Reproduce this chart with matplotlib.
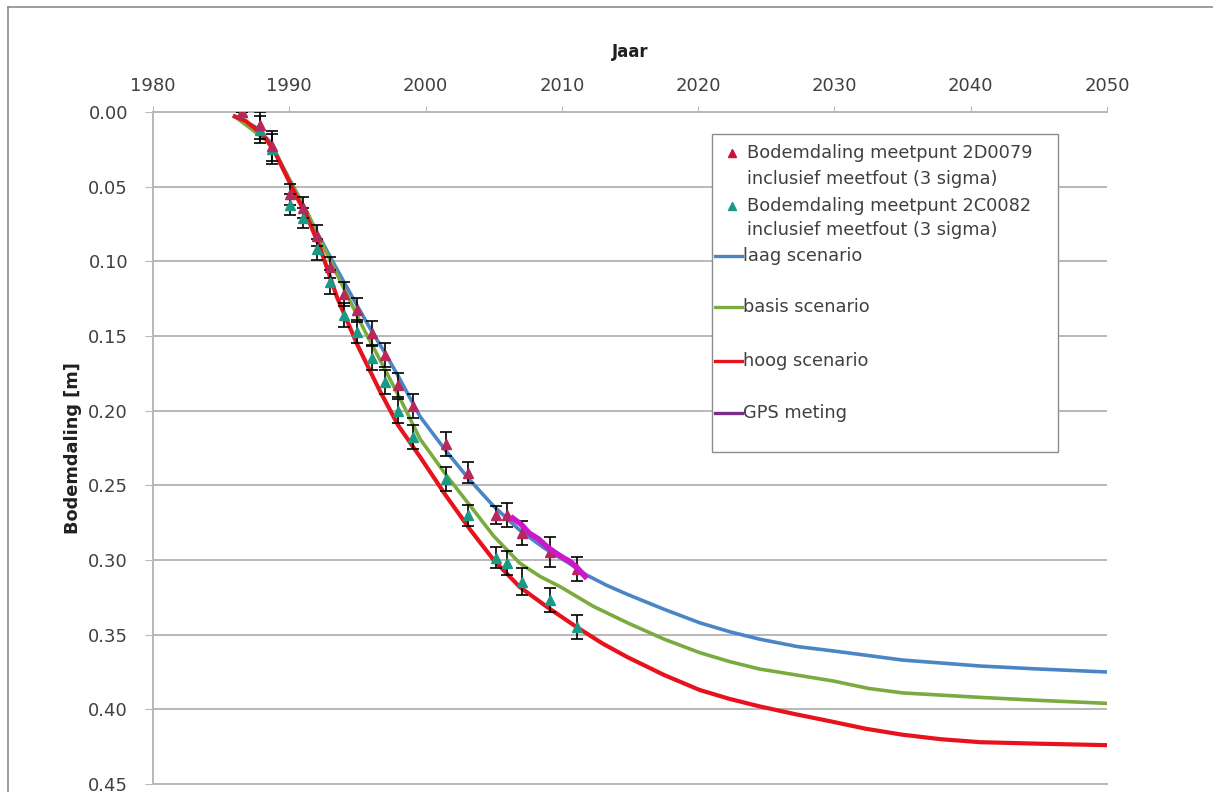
import matplotlib
matplotlib.use('Agg')
import matplotlib.pyplot as plt
from matplotlib.lines import Line2D
from matplotlib.patches import Rectangle
from matplotlib.ticker import FormatStrFormatter
import numpy as np

# ---------------- data ----------------
laag_years = [1986.0, 1987.5, 1988.6, 1990.0, 1991.0, 1992.0, 1993.0, 1993.9, 1995.0, 1996.0,
              1997.0, 1998.0, 1999.6, 2001.5, 2003.2, 2005.0, 2006.9, 2008.7, 2010.5, 2011.8,
              2013.3, 2014.8, 2017.5, 2020.1, 2022.3, 2024.5, 2027.3, 2030.0, 2035.0, 2040.7,
              2045.0, 2050.0]
laag_vals = [0.003, 0.010, 0.020, 0.045, 0.062, 0.080, 0.097, 0.112, 0.130, 0.146,
             0.161, 0.177, 0.204, 0.227, 0.246, 0.264, 0.280, 0.292, 0.302, 0.310,
             0.317, 0.323, 0.333, 0.342, 0.348, 0.353, 0.358, 0.361, 0.367, 0.371,
             0.373, 0.375]

basis_years = [1986.0, 1988.6, 1990.0, 1991.3, 1992.5, 1994.0, 1995.5, 1997.0, 1998.3, 1999.6,
               2001.5, 2003.3, 2005.0, 2006.9, 2008.4, 2009.9, 2012.3, 2014.8, 2017.5, 2020.1,
               2022.3, 2024.5, 2027.2, 2029.9, 2032.5, 2035.0, 2040.7, 2045.0, 2050.0]
basis_vals = [0.003, 0.021, 0.045, 0.067, 0.090, 0.118, 0.146, 0.172, 0.195, 0.219,
              0.243, 0.264, 0.284, 0.302, 0.311, 0.318, 0.331, 0.342, 0.353, 0.362,
              0.368, 0.373, 0.377, 0.381, 0.386, 0.389, 0.392, 0.394, 0.396]

hoog_years = [1986.0, 1986.8, 1987.5, 1988.3, 1989.0, 1989.8, 1990.5, 1991.3, 1992.3, 1993.5,
              1995.0, 1996.6, 1998.0, 1999.6, 2001.5, 2003.3, 2005.0, 2006.9, 2009.0, 2011.1,
              2013.0, 2014.8, 2017.5, 2020.1, 2022.3, 2024.5, 2027.0, 2029.7, 2032.3, 2035.0,
              2037.8, 2040.7, 2045.0, 2050.0]
hoog_vals = [0.003, 0.006, 0.011, 0.018, 0.028, 0.043, 0.056, 0.070, 0.092, 0.124,
             0.156, 0.186, 0.210, 0.231, 0.257, 0.280, 0.300, 0.318, 0.332, 0.345,
             0.356, 0.365, 0.377, 0.387, 0.393, 0.398, 0.403, 0.408, 0.413, 0.417,
             0.420, 0.422, 0.423, 0.424]

meas_years = [1986.5, 1987.85, 1988.7, 1990.05, 1991.0, 1992.0, 1993.0, 1994.0, 1995.0, 1996.1,
              1997.0, 1998.0, 1999.1, 2001.5, 2003.1, 2005.2, 2006.0, 2007.1, 2009.1, 2011.1]
p2d0079_vals = [0.000, 0.009, 0.023, 0.055, 0.064, 0.083, 0.104, 0.122, 0.1325, 0.148,
                0.1625, 0.183, 0.197, 0.2225, 0.2415, 0.270, 0.270, 0.282, 0.2945, 0.306]
p2d0079_err = [0.000, 0.009, 0.010, 0.007, 0.007, 0.007, 0.007, 0.008, 0.008, 0.008,
               0.008, 0.008, 0.008, 0.008, 0.007, 0.006, 0.008, 0.008, 0.010, 0.008]
p2c0082_vals = [0.000, 0.012, 0.025, 0.062, 0.071, 0.092, 0.114, 0.136, 0.147, 0.165,
                0.181, 0.2005, 0.2175, 0.246, 0.270, 0.2985, 0.302, 0.3145, 0.3265, 0.345]
p2c0082_err = [0.000, 0.009, 0.010, 0.007, 0.007, 0.007, 0.008, 0.008, 0.008, 0.008,
               0.008, 0.008, 0.008, 0.008, 0.007, 0.007, 0.008, 0.009, 0.008, 0.008]

gps_years = [2006.4, 2007.0, 2007.6, 2008.3, 2008.9, 2009.5, 2010.1, 2010.6, 2011.1, 2011.7]
gps_vals = [0.272, 0.276, 0.282, 0.286, 0.291, 0.295, 0.2985, 0.301, 0.305, 0.311]

x_ticks = [1980, 1990, 2000, 2010, 2020, 2030, 2040, 2050]
y_ticks = [0.00, 0.05, 0.10, 0.15, 0.20, 0.25, 0.30, 0.35, 0.40, 0.45]

legend_labels = ["Bodemdaling meetpunt 2D0079\ninclusief meetfout (3 sigma)",
                 "Bodemdaling meetpunt 2C0082\ninclusief meetfout (3 sigma)",
                 "laag scenario", "basis scenario", "hoog scenario", "GPS meting"]

# ---------------- style ----------------
C_LAAG = '#4a86c5'
C_BASIS = '#7aab3f'
C_HOOG = '#e8121e'
C_GPS = '#cc18c8'
C_GPS_LEG = '#7b2d8e'
C_P1 = '#b8285a'
C_P2 = '#1a9a85'
C_TXT = '#404040'
C_GRID = '#b8b8b8'
C_FRAME = '#8c8c8c'

plt.rcParams['font.family'] = ['DejaVu Sans']

W, H = 1213, 792
fig = plt.figure(figsize=(W / 100, H / 100), dpi=100)
ax = fig.add_axes([153 / W, 1 - 784 / H, (1107 - 153) / W, (784 - 112) / H])

def fx(px):
    return px / W

def fy(py):
    return 1 - py / H

ax.plot(laag_years, laag_vals, color=C_LAAG, lw=2.6, zorder=3)
ax.plot(basis_years, basis_vals, color=C_BASIS, lw=2.6, zorder=3)
ax.plot(hoog_years, hoog_vals, color=C_HOOG, lw=3.0, zorder=3)

ax.errorbar(meas_years, p2c0082_vals, yerr=p2c0082_err, fmt='^', color=C_P2,
            markersize=7, ecolor='black', elinewidth=1.2, capsize=4, capthick=1.2, zorder=4)
ax.errorbar(meas_years, p2d0079_vals, yerr=p2d0079_err, fmt='^', color=C_P1,
            markersize=7, ecolor='black', elinewidth=1.2, capsize=4, capthick=1.2, zorder=4)
ax.plot(gps_years, gps_vals, color=C_GPS, lw=4, zorder=5)

ax.set_xlim(1980, 2050)
ax.set_ylim(0.45, 0.0)
ax.xaxis.tick_top()
ax.xaxis.set_label_position('top')
ax.set_xticks(x_ticks)
ax.set_yticks(y_ticks)
ax.yaxis.set_major_formatter(FormatStrFormatter('%.2f'))

ax.grid(axis='y', color=C_GRID, lw=1.4)
ax.set_axisbelow(True)
ax.spines['right'].set_visible(False)
for s in ['left', 'top', 'bottom']:
    ax.spines[s].set_color(C_GRID)
    ax.spines[s].set_linewidth(1.4)

ax.tick_params(axis='x', direction='out', length=4, color=C_GRID, labelsize=13,
               labelcolor=C_TXT, pad=8)
ax.tick_params(axis='y', direction='out', length=6, color=C_GRID, labelsize=13,
               labelcolor=C_TXT, pad=12)

ax.set_xlabel('Jaar', fontsize=12, fontweight='bold', color='#202020')
ax.xaxis.set_label_coords(0.5, (784 - 52) / 672)
ax.xaxis.label.set_va('center')
ax.set_ylabel('Bodemdaling [m]', fontsize=12.8, fontweight='bold', color='#202020')
ax.yaxis.set_label_coords((73 - 153) / 954, 0.5)
ax.yaxis.label.set_va('center')

# outer chart frame (left and top visible)
fig.add_artist(Line2D([fx(8), fx(8)], [fy(7), -0.01], color=C_FRAME, lw=1.2))
fig.add_artist(Line2D([fx(8), 1.01], [fy(7), fy(7)], color=C_FRAME, lw=1.2))

# legend box
fig.add_artist(Rectangle((fx(712), fy(452)), fx(1058) - fx(712), fy(134) - fy(452),
                         transform=fig.transFigure, facecolor='white', edgecolor=C_FRAME,
                         lw=1.0, zorder=10))
leg_fs = 12.8
fig.add_artist(Line2D([fx(732)], [fy(153)], marker='^', color='#d0103a', markersize=6,
                      ls='none', zorder=11))
fig.add_artist(Line2D([fx(732)], [fy(206)], marker='^', color=C_P2, markersize=6,
                      ls='none', zorder=11))
l1a, l1b = legend_labels[0].split('\n')
l2a, l2b = legend_labels[1].split('\n')
for txt, y in [(l1a, 153), (l1b, 179), (l2a, 206), (l2b, 230)]:
    fig.text(fx(747), fy(y), txt, fontsize=leg_fs, color=C_TXT, va='center', ha='left', zorder=11)
for lab, col, y in [(legend_labels[2], C_LAAG, 256), (legend_labels[3], C_BASIS, 307),
                    (legend_labels[4], C_HOOG, 361), (legend_labels[5], C_GPS_LEG, 413)]:
    fig.add_artist(Line2D([fx(715), fx(742)], [fy(y), fy(y)], color=col, lw=2.4, zorder=11))
    fig.text(fx(743), fy(y), lab, fontsize=leg_fs, color=C_TXT, va='center', ha='left', zorder=11)

fig.savefig('out.png', dpi=100, facecolor='white')
